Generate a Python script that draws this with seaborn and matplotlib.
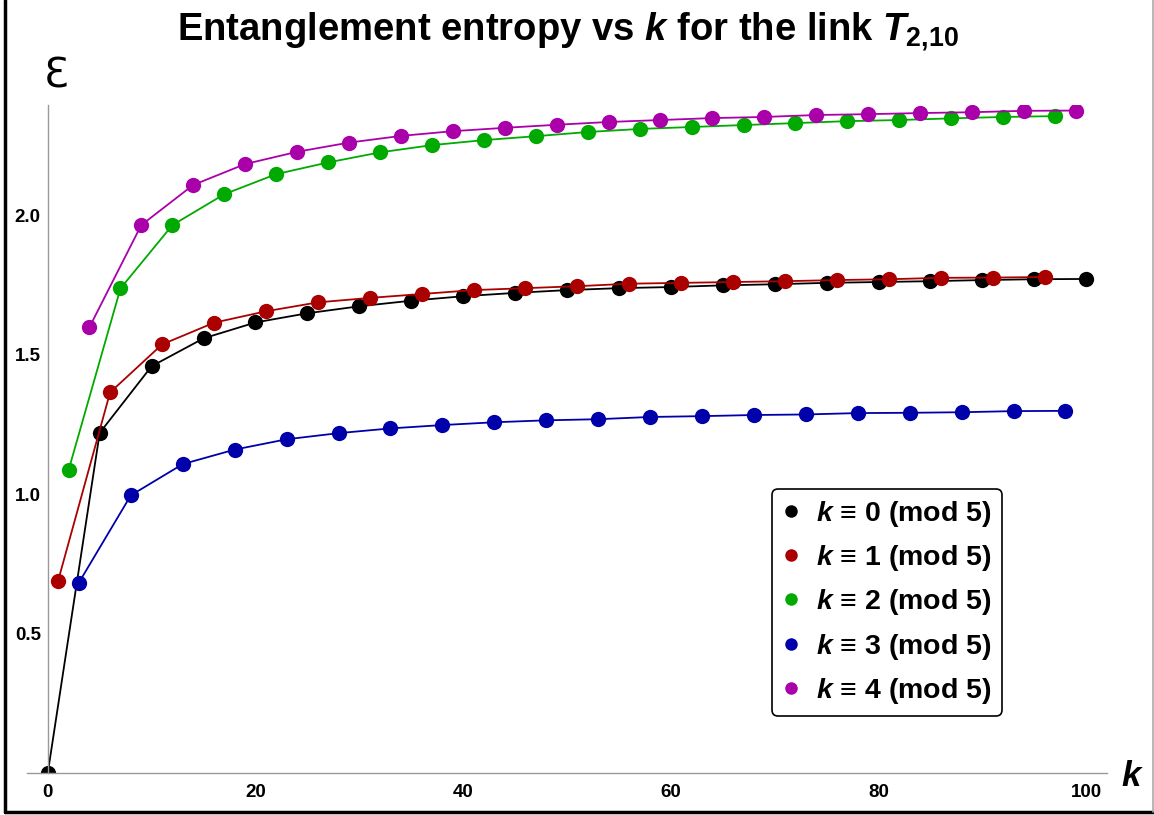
import numpy as np
import pandas as pd
import matplotlib
matplotlib.use("Agg")
import matplotlib.pyplot as plt
from matplotlib.lines import Line2D
from matplotlib.ticker import MultipleLocator
import seaborn as sns

# entanglement entropy values, one list per residue class
k0 = list(range(0, 101, 5))
E0 = [0.0, 1.220, 1.459, 1.559, 1.616, 1.649, 1.674, 1.694, 1.710, 1.722, 1.732,
      1.739, 1.743, 1.749, 1.753, 1.758, 1.761, 1.764, 1.768, 1.771, 1.772]
k1 = list(range(1, 101, 5))
E1 = [0.690, 1.365, 1.537, 1.615, 1.656, 1.688, 1.704, 1.718, 1.732, 1.739,
      1.746, 1.755, 1.758, 1.761, 1.764, 1.768, 1.771, 1.776, 1.777, 1.779]
k2 = list(range(2, 101, 5))
E2 = [1.086, 1.738, 1.965, 2.076, 2.148, 2.190, 2.226, 2.252, 2.270, 2.284,
      2.299, 2.310, 2.317, 2.324, 2.331, 2.338, 2.342, 2.348, 2.353, 2.356]
k3 = list(range(3, 101, 5))
E3 = [0.683, 0.996, 1.108, 1.160, 1.197, 1.219, 1.236, 1.248, 1.258, 1.265,
      1.269, 1.277, 1.280, 1.284, 1.286, 1.291, 1.292, 1.294, 1.298, 1.299]
k4 = list(range(4, 101, 5))
E4 = [1.598, 1.965, 2.109, 2.184, 2.228, 2.261, 2.285, 2.302, 2.314, 2.325,
      2.335, 2.342, 2.349, 2.353, 2.360, 2.363, 2.367, 2.370, 2.375, 2.376]

labels = ["$\\mathit{k}$ \u2261 0 (mod 5)", "$\\mathit{k}$ \u2261 1 (mod 5)",
          "$\\mathit{k}$ \u2261 2 (mod 5)", "$\\mathit{k}$ \u2261 3 (mod 5)",
          "$\\mathit{k}$ \u2261 4 (mod 5)"]
colors = ["#000000", "#aa0000", "#00aa00", "#0000aa", "#aa00aa"]

frames = []
for kk, ee, lab in zip([k0, k1, k2, k3, k4], [E0, E1, E2, E3, E4], labels):
    frames.append(pd.DataFrame({"k": kk, "E": ee, "series": lab}))
df = pd.concat(frames, ignore_index=True)

sns.set_style("white")
plt.rcParams["font.family"] = ["Liberation Sans", "DejaVu Sans"]
plt.rcParams["font.weight"] = "bold"
plt.rcParams["text.color"] = "black"
plt.rcParams["mathtext.fontset"] = "custom"
plt.rcParams["mathtext.it"] = "Liberation Sans:italic:bold"
plt.rcParams["mathtext.rm"] = "Liberation Sans:bold"
plt.rcParams["mathtext.bf"] = "Liberation Sans:bold"

fig = plt.figure(figsize=(11.54, 8.15), dpi=100)
ax = fig.add_axes([0.0234, 0.0515, 0.9359, 0.8197])

sns.lineplot(data=df, x="k", y="E", hue="series", hue_order=labels,
             palette=colors, marker="o", markersize=11, markeredgewidth=0,
             linewidth=1.3, legend=False, sort=True, ax=ax)

ax.set_xlim(-2, 102)
ax.set_ylim(0, 2.396)
ax.spines["top"].set_visible(False)
ax.spines["right"].set_visible(False)
ax.spines["left"].set_position(("data", 0))
for s in ["left", "bottom"]:
    ax.spines[s].set_color("#999999")
    ax.spines[s].set_linewidth(1.0)

ax.xaxis.set_major_locator(MultipleLocator(20))
ax.xaxis.set_minor_locator(MultipleLocator(5))
ax.yaxis.set_major_locator(MultipleLocator(0.5))
ax.yaxis.set_minor_locator(MultipleLocator(0.1))
ax.set_yticks([0.5, 1.0, 1.5, 2.0])
ax.set_yticklabels(["0.5", "1.0", "1.5", "2.0"])
ax.tick_params(which="both", direction="in", colors="#999999",
               labelcolor="black", labelsize=13.5)
ax.tick_params(which="major", length=5, width=1)
ax.tick_params(which="minor", length=3, width=0.8)
ax.tick_params(axis="x", pad=8)
ax.tick_params(axis="y", pad=5)
for t in ax.get_xticklabels() + ax.get_yticklabels():
    t.set_fontweight("bold")
ax.set_xlabel("")
ax.set_ylabel("")

# axis symbols placed like Mathematica's AxesLabel
fig.text(56 / 1154, 1 - 77 / 815, "\u0190", fontsize=29, fontweight="normal",
         family="DejaVu Sans", ha="center", va="center", color="black")
fig.text(1131 / 1154, 1 - 776 / 815, "k", fontsize=25, fontweight="bold",
         style="italic", ha="center", va="center", color="black")

fig.text(0.492, 1 - 32 / 815,
         "Entanglement entropy vs $\\mathit{k}$ for the link $\\mathit{T}_{\\mathrm{2{,}10}}$",
         fontsize=27.5, fontweight="bold", ha="center", va="center", color="black")

handles = [Line2D([], [], linestyle="none", marker="o", markersize=9,
                  markeredgewidth=0, color=c) for c in colors]
leg = fig.legend(handles, labels, loc="upper left",
                 bbox_to_anchor=(772 / 1154, 1 - 489 / 815),
                 prop={"size": 20.5, "weight": "bold"}, frameon=True,
                 fancybox=True, edgecolor="black", framealpha=1,
                 handlelength=0.6, handletextpad=0.6, labelspacing=0.5,
                 borderpad=0.35, borderaxespad=0)
leg.get_frame().set_linewidth(1.2)
for t in leg.get_texts():
    t.set_color("black")

# frame around the picture
fig.add_artist(Line2D([5 / 1154, 5 / 1154], [3 / 815, 1], transform=fig.transFigure,
                      color="black", linewidth=2.5))
fig.add_artist(Line2D([5 / 1154, 1], [3 / 815, 3 / 815], transform=fig.transFigure,
                      color="black", linewidth=2.5))
fig.add_artist(Line2D([1152.5 / 1154, 1152.5 / 1154], [3 / 815, 1], transform=fig.transFigure,
                      color="#aaaaaa", linewidth=1.2))

fig.savefig("out.png", dpi=100)
